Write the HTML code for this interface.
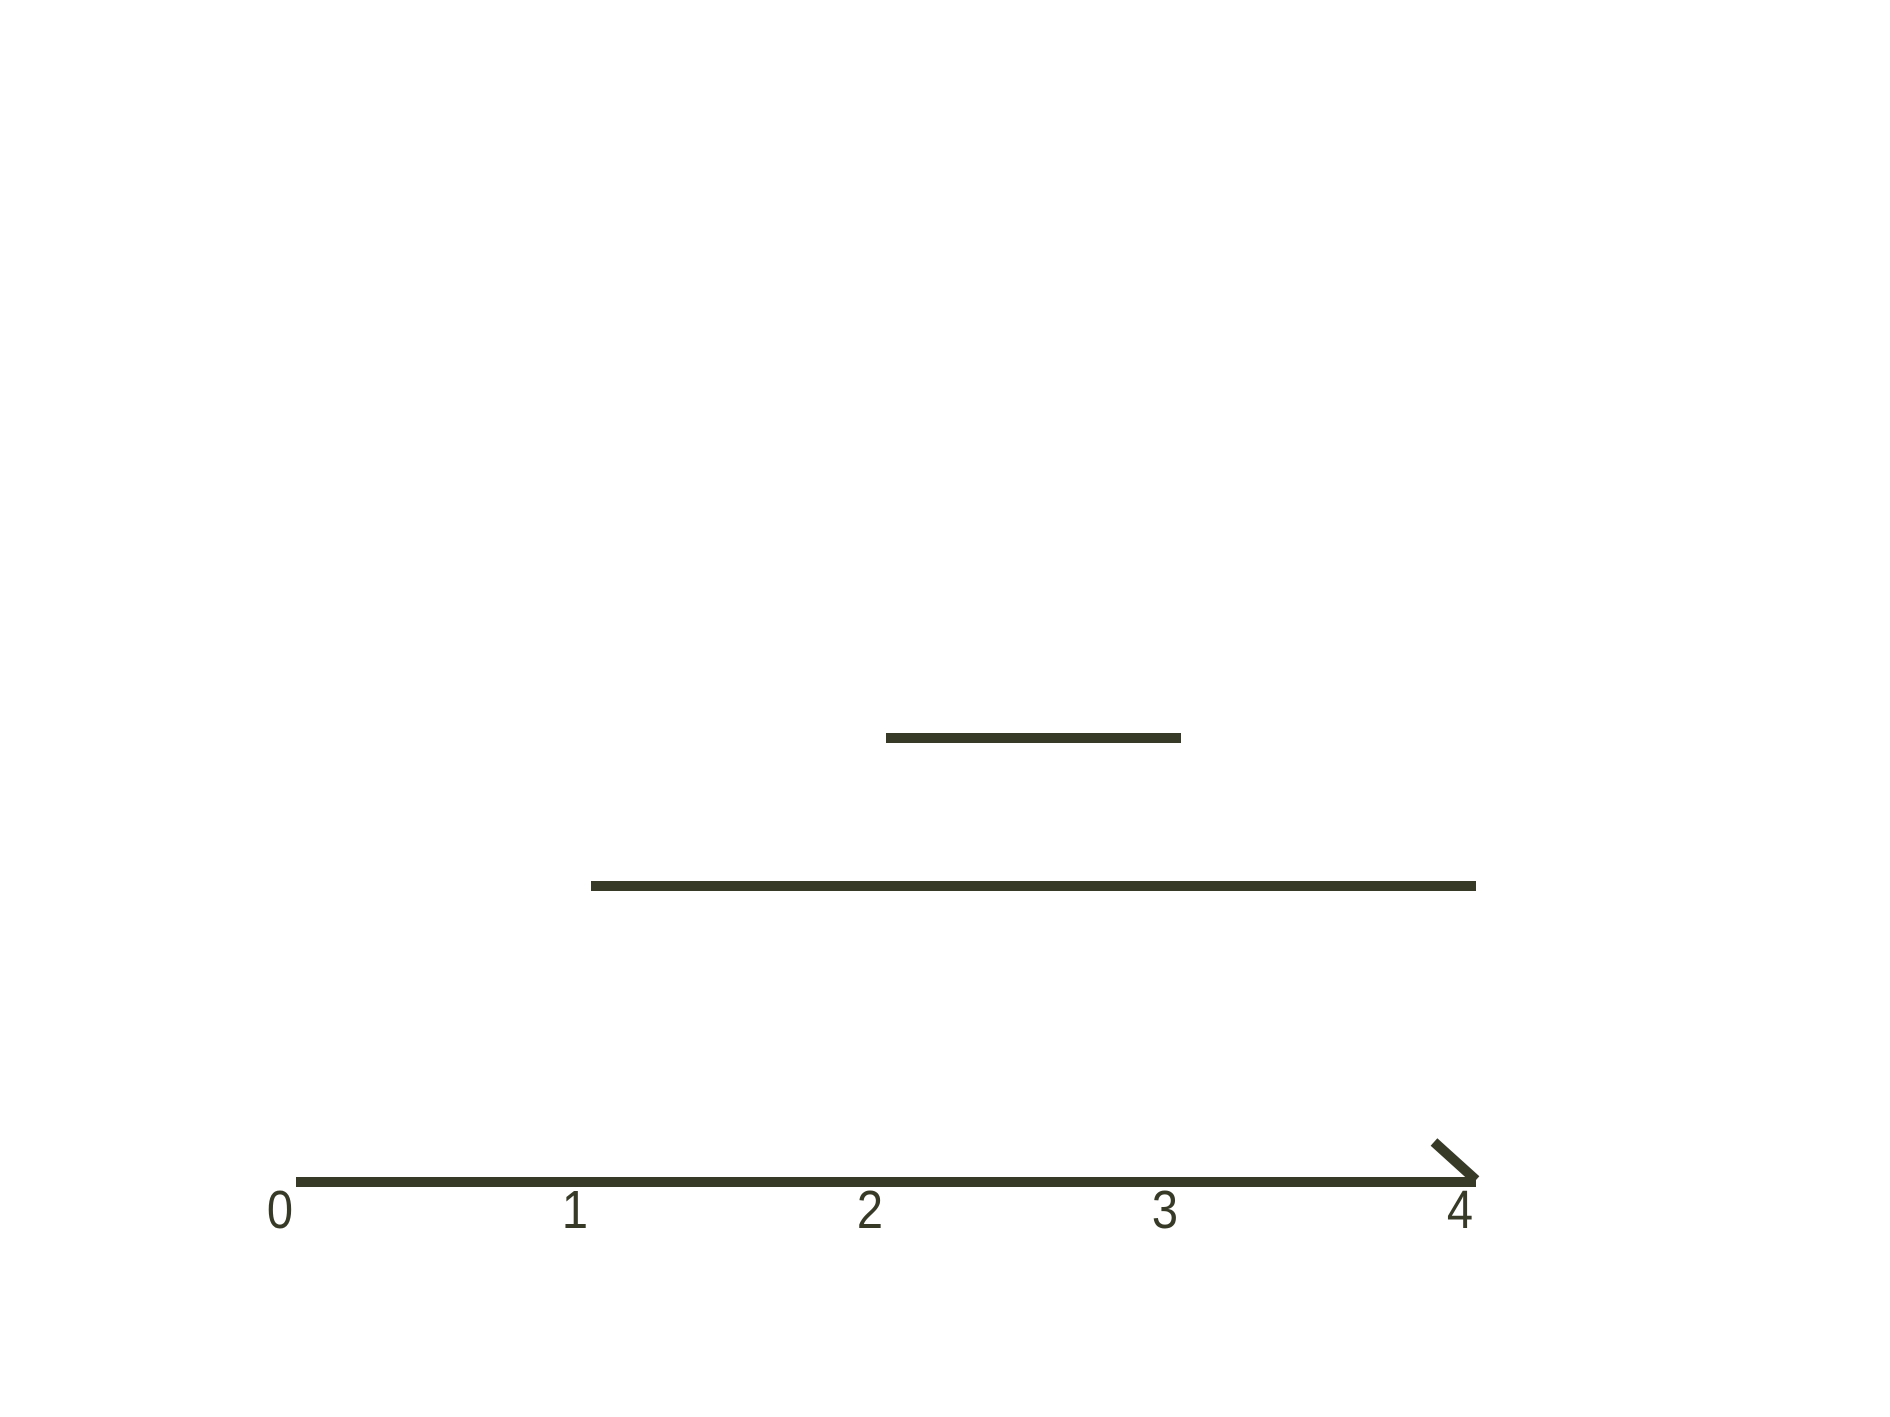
<!DOCTYPE html>
<html><head><meta charset="utf-8"><style>
html,body{margin:0;padding:0;background:#fff;}
svg{display:block;}
</style></head><body>
<svg id="chart" width="1890" height="1417" viewBox="0 0 1890 1417" xmlns="http://www.w3.org/2000/svg">
<rect width="1890" height="1417" fill="#fff"/>
<g id="marks"></g>
</svg>
<script>
const tickValues = [0, 1, 2, 3, 4];
const tickLabels = ["0", "1", "2", "3", "4"];
const intervalStarts = [2, 1];
const intervalEnds = [3, 4];
const intervalRows = [1, 0];

const color = "#383a28";
const svg = document.getElementById('marks');
const NS = "http://www.w3.org/2000/svg";
function x(v){ return 296 + 295 * v; }
function y(r){ return 886 - 148 * r; }
const axisY = 1182;

const axis = document.createElementNS(NS, 'line');
axis.setAttribute('x1', x(0)); axis.setAttribute('x2', x(4));
axis.setAttribute('y1', axisY); axis.setAttribute('y2', axisY);
axis.setAttribute('stroke', color); axis.setAttribute('stroke-width', 10);


svg.appendChild(axis);

const arrow = document.createElementNS(NS, 'line');
arrow.setAttribute('x1', x(4) - 42); arrow.setAttribute('y1', axisY - 40);
arrow.setAttribute('x2', x(4)); arrow.setAttribute('y2', axisY - 2);
arrow.setAttribute('stroke', color); arrow.setAttribute('stroke-width', 10);


svg.appendChild(arrow);

tickValues.forEach((v, i) => {
  const t = document.createElementNS(NS, 'text');
  t.setAttribute('x', x(v) - 16);
  t.setAttribute('y', 1228);
  t.setAttribute('text-anchor', 'middle');
  t.setAttribute('font-family', '"Liberation Sans", sans-serif');
  t.setAttribute('font-size', '54');
  t.setAttribute('fill', color);
  t.setAttribute('transform', `translate(${x(v)-16} 0) scale(0.87 1) translate(${-(x(v)-16)} 0)`);
  t.textContent = tickLabels[i];
  
  
  svg.appendChild(t);
});

intervalStarts.forEach((s, i) => {
  const r = document.createElementNS(NS, 'rect');
  r.setAttribute('x', x(s));
  r.setAttribute('y', y(intervalRows[i]) - 5);
  r.setAttribute('width', x(intervalEnds[i]) - x(s));
  r.setAttribute('height', 10);
  r.setAttribute('fill', color);
  
  
  svg.appendChild(r);
});
</script>
</body></html>
